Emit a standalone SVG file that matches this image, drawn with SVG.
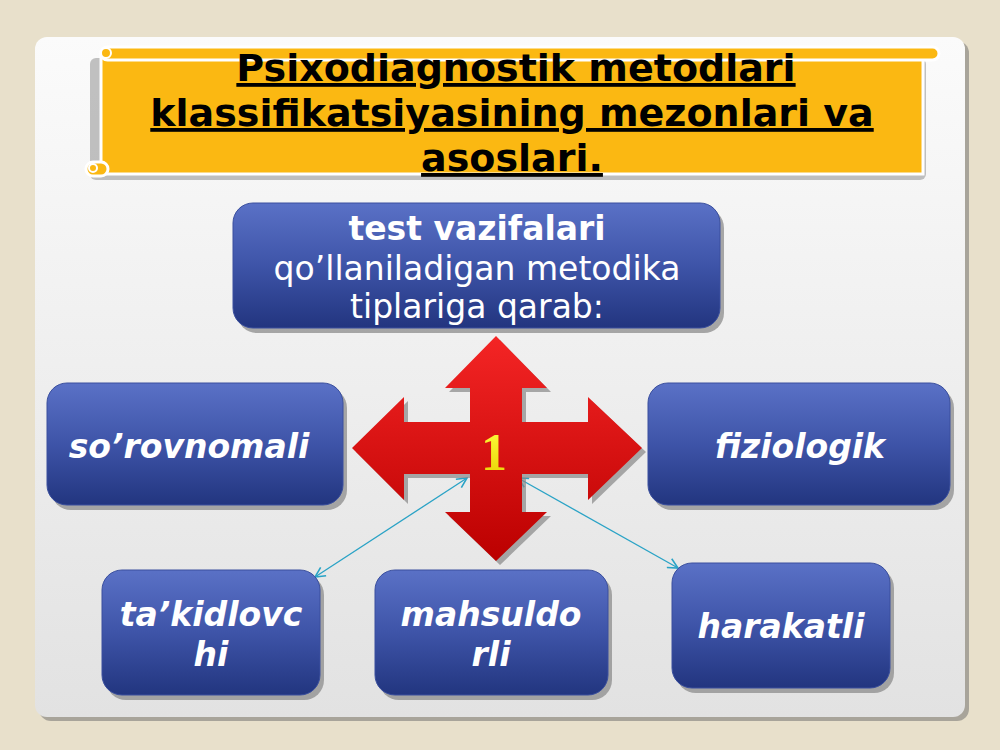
<svg xmlns="http://www.w3.org/2000/svg" width="1000" height="750" viewBox="0 0 1000 750">
<defs>
<linearGradient id="panelG" x1="0" y1="0" x2="0" y2="1"><stop offset="0" stop-color="#fbfbfb"/><stop offset="1" stop-color="#e2e2e2"/></linearGradient>
<linearGradient id="blueG" x1="0" y1="0" x2="0" y2="1"><stop offset="0" stop-color="#5a71c6"/><stop offset="0.5" stop-color="#3e54a8"/><stop offset="1" stop-color="#22357f"/></linearGradient>
<linearGradient id="redG" x1="0" y1="0" x2="0" y2="1"><stop offset="0" stop-color="#f42525"/><stop offset="1" stop-color="#bb0000"/></linearGradient>
<linearGradient id="yelG" x1="0" y1="0" x2="0" y2="1"><stop offset="0" stop-color="#ffff40"/><stop offset="1" stop-color="#e8d000"/></linearGradient>
<marker id="arr" viewBox="0 0 12 12" refX="11" refY="6" markerWidth="12" markerHeight="12" markerUnits="userSpaceOnUse" orient="auto-start-reverse"><path d="M1,1 L11,6 L1,11" fill="none" stroke="#2aa3c6" stroke-width="1.6"/></marker>
</defs>
<style>
.box{fill:url(#blueG);stroke:#3a4f9e;stroke-width:1}
.sh{fill:#8c8c8c;opacity:0.75}
.lbl{font-family:"DejaVu Sans",Verdana,sans-serif;font-weight:bold;font-style:italic;font-size:33px;fill:#ffffff;text-anchor:middle}
.top{font-family:"DejaVu Sans",Verdana,sans-serif;font-size:33px;fill:#ffffff;text-anchor:middle}
.title{font-family:"DejaVu Sans",Verdana,sans-serif;font-weight:bold;font-size:38px;fill:#000000;text-anchor:middle;text-decoration:underline}
.con{fill:none;stroke:#2aa3c6;stroke-width:1.3;marker-start:url(#arr);marker-end:url(#arr)}
</style>
<rect width="1000" height="750" fill="#e8e0cb"/>
<g id="panel">
<rect x="39" y="41" width="930" height="680" rx="12" fill="#a8a49a"/>
<rect x="35" y="37" width="930" height="680" rx="12" fill="url(#panelG)"/>
</g>
<g id="banner">
<rect x="90" y="58" width="836" height="122" rx="6" fill="#9a9a9a" opacity="0.6"/>
<rect x="101" y="52" width="822" height="122" fill="#fbb812" stroke="#ffffff" stroke-width="3"/>
<rect x="101" y="47" width="838" height="13" rx="6.5" fill="#fbb812" stroke="#ffffff" stroke-width="3"/>
<circle cx="106" cy="53" r="5" fill="#fbb812" stroke="#ffffff" stroke-width="2"/>
<rect x="86" y="162" width="22" height="14" rx="7" fill="#fbb812" stroke="#ffffff" stroke-width="3"/>
<circle cx="93" cy="168" r="4" fill="#fbb812" stroke="#ffffff" stroke-width="2"/>
<text class="title" x="516" y="81">Psixodiagnostik metodlari</text>
<text class="title" x="512" y="126">klassifikatsiyasining mezonlari va</text>
<text class="title" x="512" y="171">asoslari.</text>
</g>
<g id="connectors">
<line class="con" x1="467" y1="478" x2="315" y2="577"/>
<line class="con" x1="518" y1="478" x2="678" y2="568"/>
</g>
<g id="cross">
<polygon transform="translate(4,4)" fill="#888888" opacity="0.7" points="496,336 547,388 522,388 522,422 588,422 588,397 642,448 588,500 588,474 522,474 522,512 547,512 496,561 445,512 470,512 470,474 404,474 404,500 352,448 404,397 404,422 470,422 470,388 445,388"/>
<polygon fill="url(#redG)" points="496,336 547,388 522,388 522,422 588,422 588,397 642,448 588,500 588,474 522,474 522,512 547,512 496,561 445,512 470,512 470,474 404,474 404,500 352,448 404,397 404,422 470,422 470,388 445,388"/>
<text x="494" y="470" font-family="'Liberation Serif','Times New Roman',serif" font-weight="bold" font-size="52" fill="url(#yelG)" text-anchor="middle">1</text>
</g>
<g id="node-top">
<rect class="sh" x="237" y="208" width="487" height="125" rx="20"/>
<rect class="box" x="233" y="203" width="487" height="125" rx="20"/>
<text class="top" x="477" y="240" font-weight="bold">test vazifalari</text>
<text class="top" x="477" y="280">qo’llaniladigan metodika</text>
<text class="top" x="477" y="318">tiplariga qarab:</text>
</g>
<g id="node-sorovnomali">
<rect class="sh" x="51" y="388" width="296" height="122" rx="20"/>
<rect class="box" x="47" y="383" width="296" height="122" rx="20"/>
<text class="lbl" x="189" y="458">so’rovnomali</text>
</g>
<g id="node-fiziologik">
<rect class="sh" x="652" y="388" width="302" height="122" rx="20"/>
<rect class="box" x="648" y="383" width="302" height="122" rx="20"/>
<text class="lbl" x="800" y="458">fiziologik</text>
</g>
<g id="node-takidlovchi">
<rect class="sh" x="106" y="575" width="218" height="125" rx="20"/>
<rect class="box" x="102" y="570" width="218" height="125" rx="20"/>
<text class="lbl" x="211" y="626">ta’kidlovc</text>
<text class="lbl" x="211" y="666">hi</text>
</g>
<g id="node-mahsuldorli">
<rect class="sh" x="379" y="575" width="233" height="125" rx="20"/>
<rect class="box" x="375" y="570" width="233" height="125" rx="20"/>
<text class="lbl" x="491" y="626">mahsuldo</text>
<text class="lbl" x="491" y="666">rli</text>
</g>
<g id="node-harakatli">
<rect class="sh" x="676" y="568" width="218" height="125" rx="20"/>
<rect class="box" x="672" y="563" width="218" height="125" rx="20"/>
<text class="lbl" x="781" y="638">harakatli</text>
</g>
</svg>
